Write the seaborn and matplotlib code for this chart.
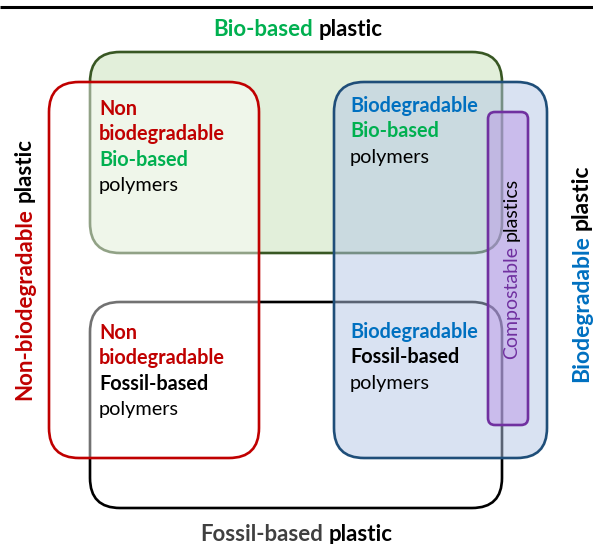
import matplotlib
matplotlib.use("Agg")
import matplotlib.pyplot as plt
from matplotlib.patches import FancyBboxPatch
import seaborn as sns

sns.set_theme(style="white")
plt.rcParams["font.family"] = ["Lato", "DejaVu Sans"]

# the five groups of the diagram and their extents (picture pixels)
groups = ["Bio-based", "Fossil-based", "Non-biodegradable", "Biodegradable", "Compostable"]
left = [90, 90, 49, 334, 488]
top = [52, 302, 82, 82, 112]
right = [502, 502, 259, 547, 528]
bottom = [253, 508, 458, 458, 425]

# text of the four overlap regions
regions_bio = ["Non", "biodegradable", "Bio-based", "polymers"]
regions_fossil = ["Non", "biodegradable", "Fossil-based", "polymers"]
regions_bio_deg = ["Biodegradable", "Bio-based", "polymers"]
regions_fossil_deg = ["Biodegradable", "Fossil-based", "polymers"]

RED = "#c00000"
GREEN = "#00b050"
BLUE = "#0070c0"
PURPLE = "#7030a0"

styles = {
    "Bio-based": dict(fc="#e2efda", ec="#385723", r=30),
    "Fossil-based": dict(fc="none", ec="black", r=30),
    "Non-biodegradable": dict(fc=(1, 1, 1, 0.45), ec=RED, r=30),
    "Biodegradable": dict(fc=(180 / 255, 199 / 255, 231 / 255, 0.5), ec="#1f4e79", r=30),
    "Compostable": dict(fc=(0.72, 0.56, 0.9, 0.45), ec=PURPLE, r=7),
}
text_colors = {"Non": RED, "biodegradable": RED, "Bio-based": GREEN,
               "Fossil-based": "black", "Biodegradable": BLUE, "polymers": "black"}

fig = plt.figure(figsize=(5.93, 5.44), dpi=100)
ax = fig.add_axes([0, 0, 1, 1])
ax.set_xlim(0, 593)
ax.set_ylim(544, 0)
ax.axis("off")

for g, x0, y0, x1, y1 in zip(groups, left, top, right, bottom):
    st = styles[g]
    ax.add_patch(FancyBboxPatch((x0, y0), x1 - x0, y1 - y0,
                                boxstyle=f"round,pad=0,rounding_size={st['r']}",
                                fc=st["fc"], ec=st["ec"], lw=1.9))

ax.plot([0, 593], [7, 7], color="black", lw=2.2, solid_capstyle="butt")

renderer = fig.canvas.get_renderer()


def text_width(s, **kw):
    t = ax.text(0, 0, s, **kw)
    w = t.get_window_extent(renderer).width
    t.remove()
    return w


def two_color(a, b, ca, cb, x, y, size, weight="bold", vertical=False):
    full = text_width(a + " " + b, fontsize=size, fontweight=weight)
    kw = dict(fontsize=size, fontweight=weight, va="baseline")
    if not vertical:
        ax.text(x - full / 2, y, a, color=ca, ha="left", **kw)
        ax.text(x + full / 2, y, b, color=cb, ha="right", **kw)
    else:
        ax.text(x, y + full / 2, a, color=ca, ha="left",
                rotation=90, rotation_mode="anchor", **kw)
        ax.text(x, y - full / 2, b, color=cb, ha="right",
                rotation=90, rotation_mode="anchor", **kw)


two_color("Bio-based", "plastic", GREEN, "black", 298, 36, 16)
two_color("Fossil-based", "plastic", "#404040", "black", 296, 541, 16)
two_color("Non-biodegradable", "plastic", RED, "black", 31, 269, 16, vertical=True)
two_color("Biodegradable", "plastic", BLUE, "black", 588, 273, 16.5, vertical=True)
two_color("Compostable", "plastics", PURPLE, "black", 517, 268, 14,
          weight="normal", vertical=True)


def block(lines, x, y0, step=25.3):
    for i, s in enumerate(lines):
        w = "normal" if s == "polymers" else "bold"
        ax.text(x, y0 + i * step, s, color=text_colors[s], fontsize=14.3,
                fontweight=w, ha="left", va="baseline")


block(regions_bio, 99, 115)
block(regions_fossil, 99, 339)
block(regions_bio_deg, 350, 112)
block(regions_fossil_deg, 350, 338)

fig.savefig("out.png", dpi=100)
